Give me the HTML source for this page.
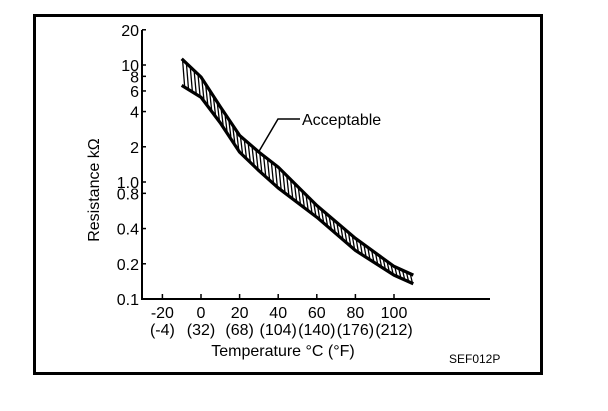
<!DOCTYPE html>
<html><head><meta charset="utf-8"><style>
body{margin:0;background:#fff}
svg text{font-family:"Liberation Sans",sans-serif;fill:#000}
</style></head><body>
<svg width="608" height="406" viewBox="0 0 608 406">
<rect x="34.5" y="15.5" width="507" height="358" fill="none" stroke="#000" stroke-width="3"/>
<g id="axes"></g>
<g id="plot"></g>
<text x="0" y="0" transform="translate(99,190) rotate(-90)" text-anchor="middle" font-size="16">Resistance  kΩ</text>
<text x="283" y="356" text-anchor="middle" font-size="16">Temperature °C (°F)</text>
<text x="302" y="125" font-size="16">Acceptable</text>
<polyline points="300,119 278,119 258,153" fill="none" stroke="#000" stroke-width="1.5"/>
<text x="449" y="363" font-size="12">SEF012P</text>
</svg>
<script>
const temps=[-10,0,10,20,30,40,60,80,100,110];
const upper=[11.3,7.9,4.4,2.5,1.8,1.34,0.63,0.33,0.19,0.16];
const lower=[6.7,5.3,3.2,1.8,1.25,0.89,0.5,0.26,0.16,0.135];
const yTicks=[20,10,8,6,4,2,1.0,0.8,0.4,0.2,0.1];
const yTickLabels=["20","10","8","6","4","2","1.0","0.8","0.4","0.2","0.1"];
const xTicks=[-20,0,20,40,60,80,100];
const xTickLabelsF=["(-4)","(32)","(68)","(104)","(140)","(176)","(212)"];
const NS="http://www.w3.org/2000/svg";
const X=t=>201+t*1.93;
const Y=r=>182-117*Math.log10(r);
function mk(tag,attrs,parent){const e=document.createElementNS(NS,tag);for(const k in attrs)e.setAttribute(k,attrs[k]);parent.appendChild(e);return e;}
const ax=document.getElementById('axes'),pl=document.getElementById('plot');
let a=mk('line',{x1:142,y1:30,x2:142,y2:300,stroke:'#000','stroke-width':2},ax);

a=mk('line',{x1:141,y1:299,x2:490,y2:299,stroke:'#000','stroke-width':2},ax);

yTicks.forEach((v,i)=>{const y=Y(v);
 const t=mk('line',{x1:142,y1:y,x2:146,y2:y,stroke:'#000','stroke-width':1.5},ax);
 
 const l=mk('text',{x:139,y:y+6,'text-anchor':'end','font-size':16},ax);l.textContent=yTickLabels[i];
 });
xTicks.forEach((v,i)=>{const x=X(v);
 const t=mk('line',{x1:x,y1:299,x2:x,y2:294,stroke:'#000','stroke-width':1.5},ax);
 
 const l=mk('text',{x:x,y:318,'text-anchor':'middle','font-size':16},ax);l.textContent=String(v);
 
 const f=mk('text',{x:x,y:335,'text-anchor':'middle','font-size':16},ax);f.textContent=xTickLabelsF[i];
 });
function interp(arr,t){for(let i=0;i<temps.length-1;i++){if(t>=temps[i]&&t<=temps[i+1]){const f=(t-temps[i])/(temps[i+1]-temps[i]);return Math.pow(10,Math.log10(arr[i])*(1-f)+Math.log10(arr[i+1])*f);}}return arr[arr.length-1];}
for(let t=temps[0]+1;t<temps[temps.length-1];t+=2){
 const h=mk('line',{x1:X(t)-1,y1:Y(interp(upper,t)),x2:X(t)+1,y2:Y(interp(lower,t)),stroke:'#000','stroke-width':1.3},pl);
 }
[[upper,'upper-limit-curve'],[lower,'lower-limit-curve']].forEach(([arr,n])=>{
 const p=mk('polyline',{points:temps.map((t,i)=>X(t)+','+Y(arr[i])).join(' '),fill:'none',stroke:'#000','stroke-width':3.2,'stroke-linejoin':'round'},pl);
 });
</script>
</body></html>
